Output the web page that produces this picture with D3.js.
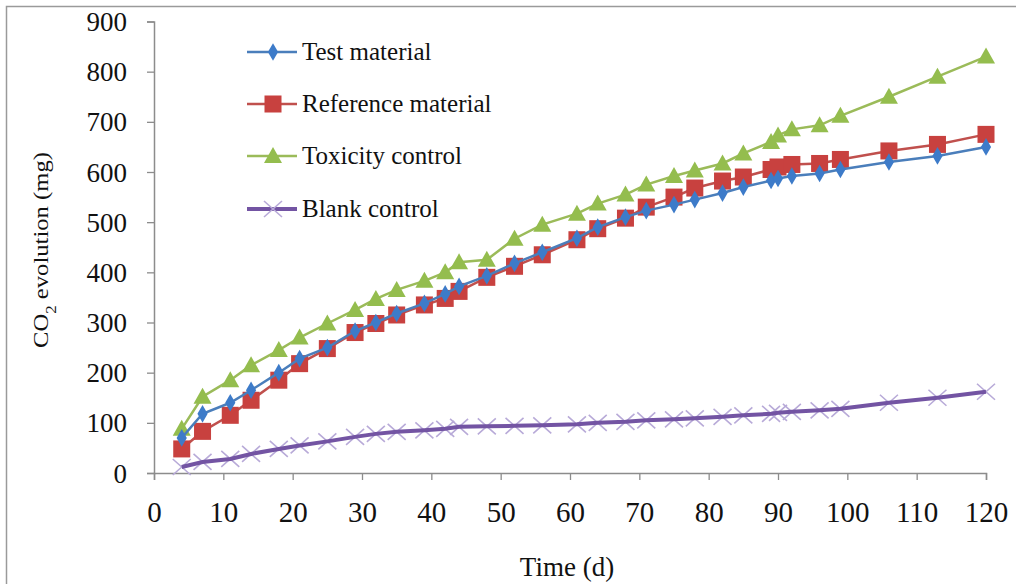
<!DOCTYPE html>
<html>
  <head>
    <meta charset="utf-8">
    <script src="https://d3js.org/d3.v7.min.js"></script>
    <style>
      body { margin: 0; background: #fff; }
      svg text { font-family: "Liberation Serif", "Times New Roman", Tinos, "DejaVu Serif", "Noto Serif", serif; fill: #111; }
    </style>
  </head>
  <body>
    <script type="text/javascript">
      // sampling days (d)
      var days = [4, 7, 11, 14, 18, 21, 25, 29, 32, 35, 39, 42, 44, 48, 52, 56, 61, 64, 68, 71,
                  75, 78, 82, 85, 89, 90, 92, 96, 99, 106, 113, 120];

      // cumulative CO2 evolution (mg)
      var testMaterial = [70, 118, 140, 165, 200, 228, 250, 283, 300, 318, 338, 357, 372, 393, 418, 440,
                          468, 490, 510, 523, 535, 545, 558, 570, 583, 587, 592, 597, 605, 620, 632, 650];
      var referenceMaterial = [48, 83, 115, 145, 185, 218, 248, 280, 298, 315, 335, 348, 362, 390, 412, 435,
                               465, 487, 508, 530, 550, 568, 582, 590, 605, 610, 615, 617, 625, 642, 655, 675];
      var toxicityControl = [88, 152, 185, 215, 245, 270, 298, 325, 347, 365, 383, 400, 420, 425, 467, 495,
                             517, 537, 555, 575, 592, 603, 617, 637, 660, 673, 685, 693, 712, 750, 790, 830];
      var blankControl = [12, 22, 28, 38, 48, 55, 63, 72, 78, 82, 85, 88, 92, 93, 94, 95,
                          97, 100, 102, 105, 107, 109, 112, 115, 118, 120, 122, 125, 128, 140, 150, 162];

      var xTicks = [0, 10, 20, 30, 40, 50, 60, 70, 80, 90, 100, 110, 120];
      var yTicks = [0, 100, 200, 300, 400, 500, 600, 700, 800, 900];

      var series = [
        {name: "Test material", values: testMaterial, line: "#4a7ebb", fill: "#3d7bc9", shape: "diamond", width: 2.5},
        {name: "Reference material", values: referenceMaterial, line: "#c0504d", fill: "#c8413f", shape: "square", width: 2.5},
        {name: "Toxicity control", values: toxicityControl, line: "#9bbb59", fill: "#94bd4e", shape: "triangle", width: 2.5},
        {name: "Blank control", values: blankControl, line: "#7354a3", fill: "#b8aad8", shape: "cross", width: 4}
      ];

      var W = 1016, H = 584;
      var serif = "'Liberation Serif', 'Times New Roman', Tinos, 'DejaVu Serif', 'Noto Serif', serif";
      var svg = d3.select("body").append("svg").attr("width", W).attr("height", H)
        .attr("font-family", serif);

      // outer frame of the figure
      svg.append("rect").attr("x", 6.5).attr("y", 6.5).attr("width", W + 20).attr("height", H + 20)
        .attr("fill", "#fff").attr("stroke", "#9a9a9a").attr("stroke-width", 1.5);

      var x = d3.scaleLinear().domain([0, 120]).range([154, 986]);
      var y = d3.scaleLinear().domain([0, 900]).range([473, 21.5]);

      var xAxis = svg.append("g").attr("transform", "translate(0," + y(0) + ")")
        .call(d3.axisBottom(x).tickValues(xTicks).tickSize(7));
      var yAxis = svg.append("g").attr("transform", "translate(" + x(0) + ",0)")
        .call(d3.axisLeft(y).tickValues(yTicks).tickSize(7));

      [xAxis, yAxis].forEach(function (g) {
        g.attr("font-family", serif);
        g.select(".domain").attr("stroke", "#8c8c8c").attr("stroke-width", 1.5);
        g.selectAll(".tick line").attr("stroke", "#8c8c8c").attr("stroke-width", 1.3);
        g.selectAll(".tick text").attr("fill", "#111");
      });
      yAxis.selectAll(".tick text").attr("x", -27).attr("y", 9).attr("dy", 0)
        .style("font-size", "27px");
      xAxis.selectAll(".tick text").attr("y", 49).attr("dy", 0)
        .style("font-size", "29px");

      // axis titles
      svg.append("text").attr("x", 567).attr("y", 576).attr("text-anchor", "middle")
        .style("font-size", "27px").text("Time (d)");

      var yl = svg.append("text").attr("transform", "translate(48,250) rotate(-90) scale(1.12,1)")
        .attr("text-anchor", "middle").style("font-size", "22px");
      yl.append("tspan").text("CO");
      yl.append("tspan").attr("baseline-shift", "sub").style("font-size", "15px").text("2");
      yl.append("tspan").text(" evolution (mg)");

      function drawMarker(g, s, cx, cy) {
        if (s.shape === "diamond") {
          g.append("path").attr("d", d3.symbol(d3.symbolDiamond, 90)())
            .attr("transform", "translate(" + cx + "," + cy + ")").attr("fill", s.fill);
        } else if (s.shape === "square") {
          g.append("rect").attr("x", cx - 8.5).attr("y", cy - 8.5).attr("width", 17).attr("height", 17)
            .attr("fill", s.fill);
        } else if (s.shape === "triangle") {
          g.append("path").attr("d", "M" + cx + "," + (cy - 9) + "L" + (cx + 9) + "," + (cy + 7) + "L" + (cx - 9) + "," + (cy + 7) + "Z")
            .attr("fill", s.fill);
        } else {
          g.append("path").attr("d", "M" + (cx - 9) + "," + (cy - 8) + "L" + (cx + 9) + "," + (cy + 8) +
                                     "M" + (cx - 9) + "," + (cy + 8) + "L" + (cx + 9) + "," + (cy - 8))
            .attr("stroke", s.fill).attr("stroke-width", 1.6).attr("fill", "none");
        }
      }

      var line = d3.line().x(function (d) { return x(d[0]); }).y(function (d) { return y(d[1]); });

      // blank first so it sits under the others, then toxicity, reference, test
      [3, 2, 1, 0].forEach(function (k) {
        var s = series[k];
        var pts = days.map(function (d, i) { return [d, s.values[i]]; });
        var g = svg.append("g");
        if (s.shape === "cross") {
          pts.forEach(function (p) { drawMarker(g, s, x(p[0]), y(p[1])); });
          g.append("path").datum(pts).attr("d", line).attr("fill", "none")
            .attr("stroke", s.line).attr("stroke-width", s.width);
        } else {
          g.append("path").datum(pts).attr("d", line).attr("fill", "none")
            .attr("stroke", s.line).attr("stroke-width", s.width);
          pts.forEach(function (p) { drawMarker(g, s, x(p[0]), y(p[1])); });
        }
      });

      // legend
      var legend = svg.append("g");
      var rowY = [52, 104, 156, 209];
      series.forEach(function (s, i) {
        var ly = rowY[i];
        legend.append("line").attr("x1", 247).attr("x2", 297).attr("y1", ly).attr("y2", ly)
          .attr("stroke", s.line).attr("stroke-width", s.width);
        drawMarker(legend, s, 273, ly);
        legend.append("text").attr("x", 302).attr("y", ly + 8)
          .style("font-size", "25px").text(s.name);
      });
    </script>
  </body>
</html>
